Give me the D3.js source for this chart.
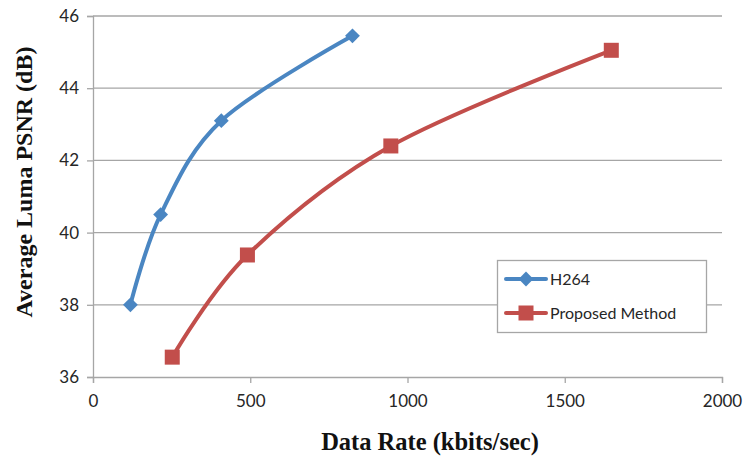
<!DOCTYPE html>
<html>
<head>
<meta charset="utf-8">
<script src="https://cdn.jsdelivr.net/npm/d3@7"></script>
<style>
  html, body { margin: 0; padding: 0; background: #fff; }
  svg { display: block; }
</style>
</head>
<body>
<svg id="chart" width="746" height="458"></svg>
<script>
// Rate-distortion data (data rate in kbit/s, average luma PSNR in dB)
const h264Rate = [119, 215, 408, 825];
const h264Psnr = [38.0, 40.5, 43.1, 45.45];
const propRate = [252, 491, 947, 1648];
const propPsnr = [36.55, 39.38, 42.4, 45.05];
const xTicks = [0, 500, 1000, 1500, 2000];
const yTicks = [36, 38, 40, 42, 44, 46];
const seriesNames = ["H264", "Proposed Method"];

const svg = d3.select("#chart");
const m = { left: 93, right: 722, top: 16, bottom: 377 };

const x = d3.scaleLinear().domain([0, 2000]).range([m.left, m.right]);
const y = d3.scaleLinear().domain([36, 46]).range([m.bottom, m.top]);

const gridColor = "#a6a6a6";
const tickFont = "Lato, 'Open Sans', sans-serif";
const titleFont = "'Liberation Serif', 'Times New Roman', serif";

// horizontal gridlines
svg.append("g").selectAll("line").data(yTicks.filter(d => d !== 36)).join("line")
  .attr("x1", m.left).attr("x2", m.right)
  .attr("y1", d => y(d)).attr("y2", d => y(d))
  .attr("stroke", gridColor).attr("stroke-width", 1.3);

// y axis
const yAxis = svg.append("g").attr("transform", `translate(${m.left},0)`)
  .call(d3.axisLeft(y).tickValues(yTicks).tickSize(6).tickPadding(8).tickFormat(d3.format("d")));
// x axis
const xAxis = svg.append("g").attr("transform", `translate(0,${m.bottom})`)
  .call(d3.axisBottom(x).tickValues(xTicks).tickSize(6).tickPadding(12).tickFormat(d3.format("d")));

[yAxis, xAxis].forEach(a => {
  a.select(".domain").attr("stroke", gridColor).attr("stroke-width", 1.3);
  a.selectAll(".tick line").attr("stroke", gridColor).attr("stroke-width", 1.3);
  a.selectAll(".tick text").attr("fill", "#262626")
    .style("font-family", tickFont).style("font-size", "17px");
});

// axis titles
svg.append("text")
  .attr("x", 430).attr("y", 450)
  .attr("text-anchor", "middle")
  .style("font-family", titleFont)
  .style("font-weight", "bold").style("font-size", "24.5px")
  .attr("fill", "#111")
  .text("Data Rate (kbits/sec)");

svg.append("text")
  .attr("transform", "translate(32,182) rotate(-90)")
  .attr("text-anchor", "middle")
  .style("font-family", titleFont)
  .style("font-weight", "bold").style("font-size", "24px")
  .attr("fill", "#111")
  .text("Average Luma PSNR (dB)");

const series = [
  { name: seriesNames[0], rate: h264Rate, psnr: h264Psnr, color: "#4a86c2", marker: "diamond" },
  { name: seriesNames[1], rate: propRate, psnr: propPsnr, color: "#c24e4b", marker: "square" }
];

const line = d3.line()
  .x(d => x(d[0])).y(d => y(d[1]))
  .curve(d3.curveCardinal.tension(0));

function drawMarker(g, type, cx, cy, color) {
  if (type === "diamond") {
    g.append("path")
      .attr("d", d3.symbol(d3.symbolSquare, 110)())
      .attr("transform", `translate(${cx},${cy}) rotate(45)`)
      .attr("fill", color);
  } else {
    g.append("rect")
      .attr("x", cx - 7.5).attr("y", cy - 7.5)
      .attr("width", 15).attr("height", 15)
      .attr("fill", color);
  }
}

series.forEach(s => {
  const pts = s.rate.map((r, i) => [r, s.psnr[i]]);
  svg.append("path")
    .datum(pts)
    .attr("d", line)
    .attr("fill", "none")
    .attr("stroke", s.color)
    .attr("stroke-width", 4)
    .attr("stroke-linecap", "round");
  const mg = svg.append("g");
  pts.forEach(p => drawMarker(mg, s.marker, x(p[0]), y(p[1]), s.color));
});

// legend
const lg = svg.append("g");
lg.append("rect")
  .attr("x", 497.5).attr("y", 260.5).attr("width", 209).attr("height", 72)
  .attr("fill", "#fff").attr("stroke", gridColor).attr("stroke-width", 1.3);
series.forEach((s, i) => {
  const ly = 279 + i * 34;
  lg.append("line")
    .attr("x1", 506).attr("x2", 546).attr("y1", ly).attr("y2", ly)
    .attr("stroke", s.color).attr("stroke-width", 4).attr("stroke-linecap", "round");
  drawMarker(lg, s.marker, 526, ly, s.color);
  lg.append("text")
    .attr("x", 550).attr("y", ly).attr("dy", "0.36em")
    .style("font-family", tickFont).style("font-size", "16px")
    .attr("fill", "#262626")
    .text(s.name);
});
</script>
</body>
</html>
